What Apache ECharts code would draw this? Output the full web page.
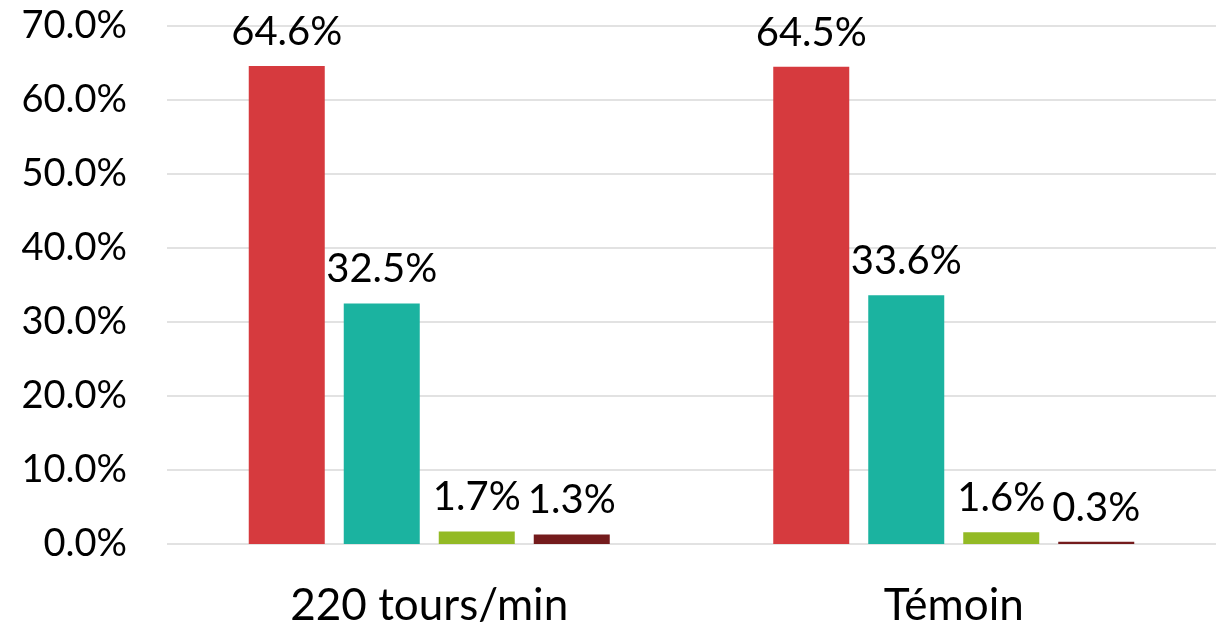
<!DOCTYPE html>
<html>
<head>
<meta charset="utf-8">
<script src="https://cdn.jsdelivr.net/npm/echarts@6/dist/echarts.min.js"></script>
<style>
  html, body { margin: 0; padding: 0; background: #ffffff; }
  #chart { width: 1216px; height: 628px; }
</style>
</head>
<body>
<div id="chart"></div>
<script>
// Categories along the x axis
const categories = ['220 tours/min', 'Témoin'];

// Shares (%) for each of the four groups
const seriesA = [64.6, 64.5];
const seriesB = [32.5, 33.6];
const seriesC = [1.7, 1.6];
const seriesD = [1.3, 0.3];

const seriesColors = ['#D63A3E', '#1BB3A0', '#93BA25', '#741B1C'];
const allSeries = [seriesA, seriesB, seriesC, seriesD];

const FONT = 'Lato, "Open Sans", sans-serif';

const chart = echarts.init(document.getElementById('chart'), null, { renderer: 'canvas' });

chart.setOption({
  animation: false,
  backgroundColor: '#ffffff',
  grid: { left: 167, width: 1052, top: 26, bottom: 84, containLabel: false },
  xAxis: {
    type: 'category',
    data: categories,
    axisLine: { show: false },
    axisTick: { show: false },
    axisLabel: { color: '#000000', fontFamily: FONT, fontSize: 44, margin: 40 }
  },
  yAxis: {
    type: 'value',
    min: 0,
    max: 70,
    interval: 10,
    axisLine: { show: false },
    axisTick: { show: false },
    splitLine: { lineStyle: { color: '#d9d9d9', width: 1.5 } },
    axisLabel: {
      color: '#000000', fontFamily: FONT, fontSize: 38, margin: 40,
      formatter: v => v.toFixed(1) + '%'
    }
  },
  series: allSeries.map((vals, i) => ({
    type: 'bar',
    data: vals,
    barWidth: 76,
    barGap: '25%',
    itemStyle: { color: seriesColors[i] },
    label: {
      show: true,
      position: 'top',
      distance: 14,
      color: '#000000',
      fontFamily: FONT,
      fontSize: 40,
      formatter: p => p.value.toFixed(1) + '%'
    }
  }))
});
</script>
</body>
</html>
